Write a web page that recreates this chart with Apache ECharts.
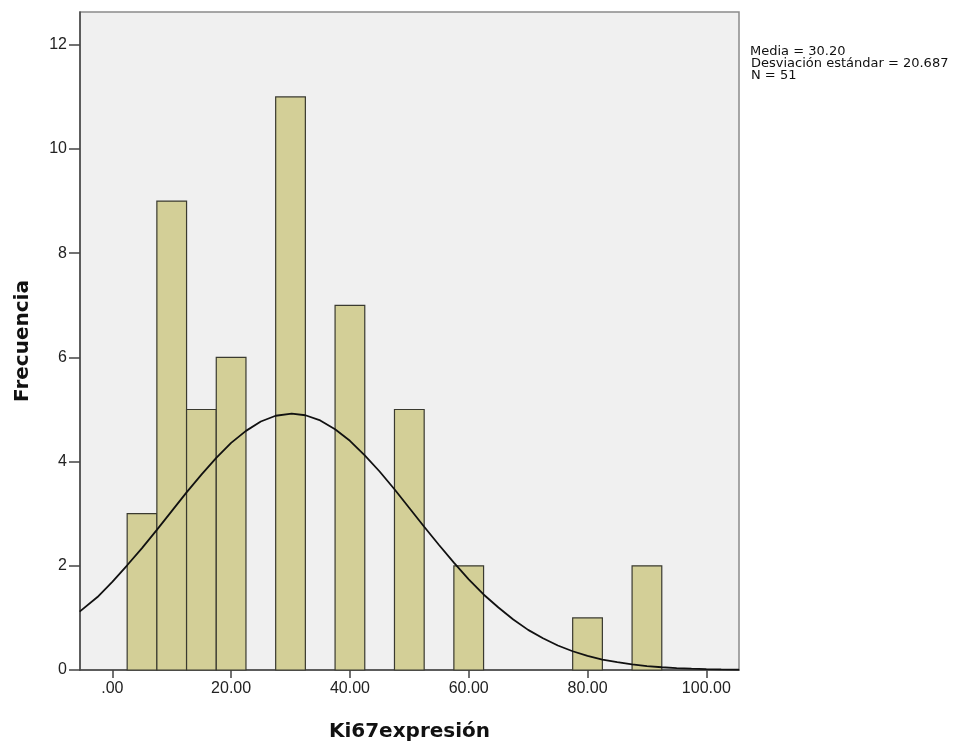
<!DOCTYPE html>
<html>
<head>
<meta charset="utf-8">
<script src="https://cdn.jsdelivr.net/npm/echarts@6/dist/echarts.min.js"></script>
<style>
  html, body { margin: 0; padding: 0; background: #fff; }
  #chart { width: 953px; height: 745px; }
</style>
</head>
<body>
<div id="chart"></div>
<script>
// Histogram bins (width 5) for Ki67 expression
const binStarts = [2.5, 7.5, 12.5, 17.5, 27.5, 37.5, 47.5, 57.5, 77.5, 87.5];
const binWidth = 5;
const counts = [3, 9, 5, 6, 11, 7, 5, 2, 1, 2];

// Fitted normal curve (mean 30.20, sd 20.687, N 51), sampled points
const curveX = [-5.5, -2.5, 0, 2.5, 5, 7.5, 10, 12.5, 15, 17.5, 20, 22.5, 25, 27.5, 30.2, 32.5, 35, 37.5, 40, 42.5, 45, 47.5, 50, 52.5, 55, 57.5, 60, 62.5, 65, 67.5, 70, 72.5, 75, 77.5, 80, 82.5, 85, 87.5, 90, 92.5, 95, 97.5, 100, 102.5, 105.5];
const curveY = [1.12, 1.40, 1.69, 2.01, 2.34, 2.69, 3.05, 3.41, 3.75, 4.07, 4.36, 4.59, 4.77, 4.88, 4.92, 4.89, 4.79, 4.62, 4.40, 4.12, 3.81, 3.47, 3.11, 2.75, 2.40, 2.06, 1.74, 1.45, 1.20, 0.97, 0.77, 0.61, 0.47, 0.36, 0.27, 0.20, 0.15, 0.106, 0.075, 0.053, 0.036, 0.025, 0.017, 0.011, 0.007];

// Axis ticks
const xTicks = [0, 20, 40, 60, 80, 100];
const xTickLabels = ['.00', '20.00', '40.00', '60.00', '80.00', '100.00'];
const yTicks = [0, 2, 4, 6, 8, 10, 12];

const statsLines = ['Media = 30.20', 'Desviación estándar = 20.687', 'N = 51'];

const chart = echarts.init(document.getElementById('chart'), null, { renderer: 'canvas' });

const barData = binStarts.map((s, i) => [s, s + binWidth, counts[i]]);
const curveData = curveX.map((x, i) => [x, curveY[i]]);

chart.setOption({
  animation: false,
  backgroundColor: '#ffffff',
  textStyle: { fontFamily: 'Liberation Sans, Arial, sans-serif' },
  grid: {
    left: 80, top: 12, right: 214, bottom: 75,
    outerBoundsMode: 'none',
    containLabel: false,
    show: true,
    backgroundColor: '#f0f0f0',
    borderColor: '#8a8a8a',
    borderWidth: 1.5
  },
  xAxis: {
    type: 'value',
    min: -5.44,
    max: 105.5,
    name: 'Ki67expresión',
    nameLocation: 'middle',
    nameGap: 52,
    nameTextStyle: { fontSize: 20, fontWeight: 'bold', color: '#111', fontFamily: 'DejaVu Sans, sans-serif' },
    axisLine: { show: true, onZero: false, lineStyle: { color: '#444', width: 1.5 } },
    axisTick: { show: true, length: 8, customValues: xTicks, lineStyle: { color: '#444', width: 1.5 } },
    axisLabel: {
      customValues: xTicks,
      fontSize: 16, color: '#222', margin: 11,
      formatter: v => xTickLabels[xTicks.indexOf(Math.round(v))]
    },
    splitLine: { show: false }
  },
  yAxis: {
    type: 'value',
    min: 0,
    max: 12.63,
    name: 'Frecuencia',
    nameLocation: 'middle',
    nameGap: 47,
    nameRotate: 90,
    nameTextStyle: { fontSize: 20, fontWeight: 'bold', color: '#111', fontFamily: 'DejaVu Sans, sans-serif' },
    axisLine: { show: true, onZero: false, lineStyle: { color: '#444', width: 1.5 } },
    axisTick: { show: true, length: 11, customValues: yTicks, lineStyle: { color: '#444', width: 1.5 } },
    axisLabel: { customValues: yTicks, fontSize: 16, color: '#222', margin: 13 },
    splitLine: { show: false }
  },
  series: [
    {
      type: 'custom',
      data: barData,
      encode: { x: [0, 1], y: 2 },
      renderItem: function (params, api) {
        const p0 = api.coord([api.value(0), 0]);
        const p1 = api.coord([api.value(1), api.value(2)]);
        return {
          type: 'rect',
          shape: { x: p0[0], y: p1[1], width: p1[0] - p0[0], height: p0[1] - p1[1] },
          style: { fill: '#d3cf97', stroke: '#3a3a30', lineWidth: 1.2 }
        };
      },
      z: 2
    },
    {
      type: 'line',
      data: curveData,
      smooth: false,
      showSymbol: false,
      clip: true,
      lineStyle: { color: '#111', width: 1.8 },
      z: 3
    }
  ],
  graphic: statsLines.map((t, i) => ({
    type: 'text',
    left: 750 + (i === 0 ? 0 : 1),
    top: 45 + i * 12,
    style: { text: t, fontSize: 13, fill: '#111', fontFamily: 'DejaVu Sans, sans-serif' }
  }))
});
</script>
</body>
</html>
